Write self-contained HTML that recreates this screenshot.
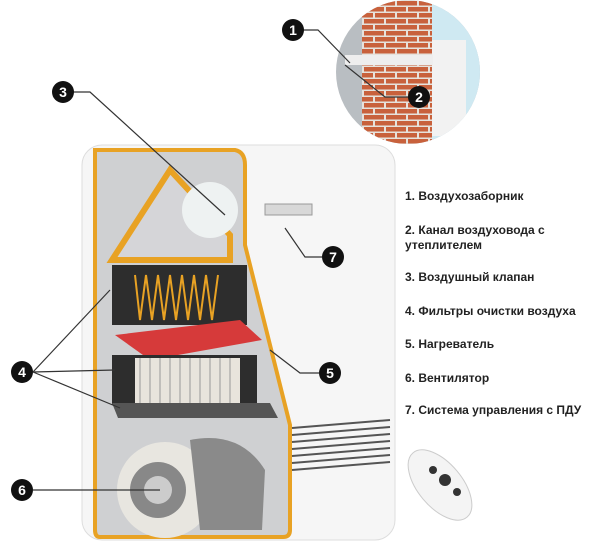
<!DOCTYPE html><html><head><style>body{margin:0;background:#fff}svg{display:block}
.t{font-family:"Liberation Sans",sans-serif;font-size:12px;font-weight:bold;fill:#222}
.n{font-family:"Liberation Sans",sans-serif;font-size:14px;font-weight:bold;fill:#fff;text-anchor:middle}</style></head><body>
<svg width="600" height="550" viewBox="0 0 600 550">
<defs><pattern id="br" width="22" height="12" patternUnits="userSpaceOnUse"><rect width="22" height="12" fill="#e6e2dc"/><rect x="1" y="1" width="20" height="4.5" fill="#c8613c"/><rect x="-10" y="7" width="20" height="4.5" fill="#c8613c"/><rect x="12" y="7" width="20" height="4.5" fill="#c8613c"/></pattern>
<clipPath id="cc"><circle cx="408" cy="72" r="72"/></clipPath></defs>
<g clip-path="url(#cc)"><rect x="330" y="0" width="160" height="150" fill="#b9bec2"/><rect x="430" y="0" width="60" height="150" fill="#cfe9f2"/><rect x="362" y="0" width="70" height="150" fill="url(#br)"/><rect x="432" y="40" width="34" height="96" fill="#f2f2f2"/><rect x="345" y="55" width="88" height="10" fill="#eee"/></g>
<rect x="82" y="145" width="313" height="395" rx="20" fill="#f6f6f6"/>
<rect x="82" y="145" width="313" height="395" rx="20" fill="none" stroke="#ddd"/>
<path d="M95 150 H235 Q245 152 245 165 V245 L290 425 V530 Q290 537 283 537 H100 Q95 537 95 530 Z" fill="#cfd0d2" stroke="#e8a224" stroke-width="4"/>
<path d="M112 260 L170 170 L230 235 V260 Z" fill="#d5d5d8" stroke="#e8a224" stroke-width="6"/>
<circle cx="210" cy="210" r="28" fill="#eef2f2"/>
<rect x="265" y="204" width="47" height="11" fill="#d8d8d8" stroke="#999"/>
<rect x="112" y="265" width="135" height="60" fill="#2d2d2d"/>
<polyline points="135,275 140,320 146,275 152,320 158,275 164,320 170,275 176,320 182,275 188,320 194,275 200,320 206,275 212,320 218,275" fill="none" stroke="#e8a224" stroke-width="2"/>
<path d="M115 335 L240 320 L262 340 L150 360 Z" fill="#d63a3a"/>
<rect x="112" y="355" width="145" height="50" fill="#2d2d2d"/>
<rect x="135" y="358" width="105" height="45" fill="#e8e4dc"/>
<g stroke="#999" stroke-width="1"><line x1="140" y1="358" x2="140" y2="403"/><line x1="150" y1="358" x2="150" y2="403"/><line x1="160" y1="358" x2="160" y2="403"/><line x1="170" y1="358" x2="170" y2="403"/><line x1="180" y1="358" x2="180" y2="403"/><line x1="190" y1="358" x2="190" y2="403"/><line x1="200" y1="358" x2="200" y2="403"/><line x1="210" y1="358" x2="210" y2="403"/><line x1="220" y1="358" x2="220" y2="403"/><line x1="230" y1="358" x2="230" y2="403"/></g>
<path d="M112 403 H270 L278 418 H118 Z" fill="#555"/>
<circle cx="165" cy="490" r="48" fill="#e8e6e0"/><circle cx="158" cy="490" r="28" fill="#888"/><circle cx="158" cy="490" r="14" fill="#ccc"/>
<path d="M190 440 Q240 430 265 470 L262 530 H200 Z" fill="#8a8a8a"/>
<g stroke="#555" stroke-width="2"><line x1="292" y1="428" x2="390" y2="420"/><line x1="292" y1="435" x2="390" y2="427"/><line x1="292" y1="442" x2="390" y2="434"/><line x1="292" y1="449" x2="390" y2="441"/><line x1="292" y1="456" x2="390" y2="448"/><line x1="292" y1="463" x2="390" y2="455"/><line x1="292" y1="470" x2="390" y2="462"/></g>
<ellipse cx="440" cy="485" rx="22" ry="42" transform="rotate(-40 440 485)" fill="#f4f4f4" stroke="#ccc"/>
<circle cx="445" cy="480" r="6" fill="#333"/><circle cx="433" cy="470" r="4" fill="#333"/><circle cx="457" cy="492" r="4" fill="#333"/>
<g stroke="#333" stroke-width="1.2" fill="none">
<polyline points="303,30 318,30 350,63"/><polyline points="408,97 385,97 345,65"/>
<polyline points="73,92 90,92 225,215"/><polyline points="322,257 305,257 285,228"/>
<polyline points="319,373 300,373 270,350"/>
<line x1="33" y1="372" x2="110" y2="290"/><line x1="33" y1="372" x2="115" y2="370"/><line x1="33" y1="372" x2="120" y2="408"/>
<line x1="33" y1="490" x2="160" y2="490"/></g>
<g><circle cx="293" cy="30" r="11" fill="#111"/><text class="n" x="293" y="35">1</text>
<circle cx="419" cy="97" r="11" fill="#111"/><text class="n" x="419" y="102">2</text>
<circle cx="63" cy="92" r="11" fill="#111"/><text class="n" x="63" y="97">3</text>
<circle cx="333" cy="257" r="11" fill="#111"/><text class="n" x="333" y="262">7</text>
<circle cx="330" cy="373" r="11" fill="#111"/><text class="n" x="330" y="378">5</text>
<circle cx="22" cy="372" r="11" fill="#111"/><text class="n" x="22" y="377">4</text>
<circle cx="22" cy="490" r="11" fill="#111"/><text class="n" x="22" y="495">6</text></g>
<text class="t" x="405" y="200">1. Воздухозаборник</text>
<text class="t" x="405" y="234">2. Канал воздуховода с</text>
<text class="t" x="405" y="249">утеплителем</text>
<text class="t" x="405" y="281">3. Воздушный клапан</text>
<text class="t" x="405" y="315">4. Фильтры очистки воздуха</text>
<text class="t" x="405" y="348">5. Нагреватель</text>
<text class="t" x="405" y="382">6. Вентилятор</text>
<text class="t" x="405" y="414">7. Система управления  с ПДУ</text>
</svg></body></html>
